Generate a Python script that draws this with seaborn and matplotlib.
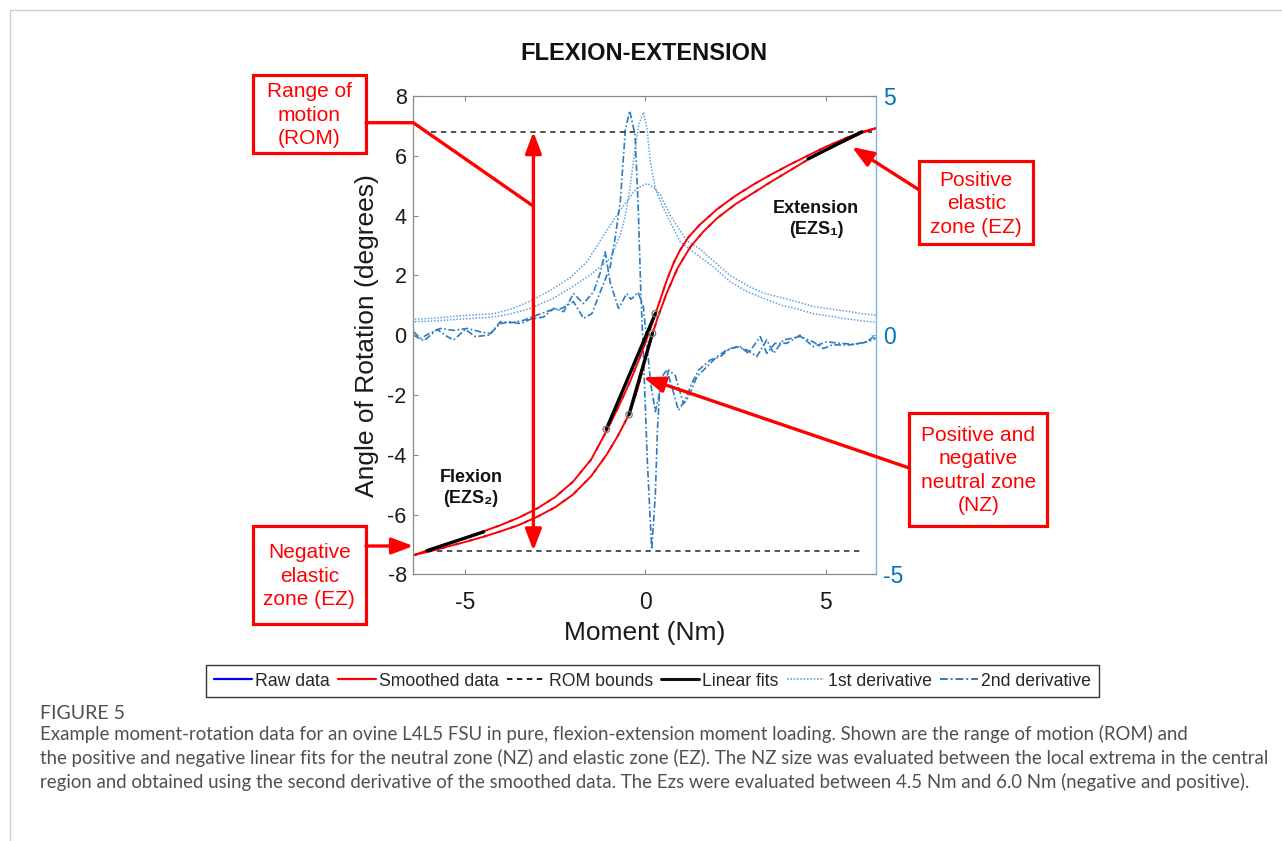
import numpy as np
import matplotlib
matplotlib.use("Agg")
import matplotlib.pyplot as plt
import seaborn as sns
from matplotlib.lines import Line2D
from matplotlib.patches import Rectangle

# ---------------- data ----------------
# moment-rotation loop: branch shifted left (upper) and branch shifted right (lower)
upper_m = [-6.42, -6.0, -5.5, -5.0, -4.5, -4.0, -3.5, -3.0, -2.5, -2.0, -1.5, -1.06, -0.75, -0.42,
           -0.15, 0.05, 0.32, 0.6, 0.8, 0.97, 1.2, 1.5, 2.0, 2.5, 3.0, 3.5, 4.0, 4.5, 5.0, 5.5,
           6.0, 6.39]
upper_rot = [-7.36, -7.18, -6.98, -6.78, -6.57, -6.35, -6.1, -5.8, -5.42, -4.9, -4.16, -3.18, -2.42,
             -1.55, -0.75, -0.1, 0.84, 1.85, 2.45, 2.85, 3.28, 3.68, 4.22, 4.66, 5.04, 5.38, 5.7,
             6.0, 6.3, 6.56, 6.8, 6.92]
lower_m = [-6.42, -6.0, -5.5, -5.0, -4.5, -4.0, -3.5, -3.0, -2.5, -2.0, -1.5, -1.06, -0.75, -0.42,
           -0.2, 0.0, 0.15, 0.35, 0.6, 0.9, 1.25, 1.6, 2.0, 2.5, 3.0, 3.5, 4.0, 4.52, 5.0, 5.5,
           6.0, 6.39]
lower_rot = [-7.36, -7.24, -7.08, -6.92, -6.75, -6.56, -6.35, -6.08, -5.76, -5.33, -4.72, -3.98,
             -3.35, -2.58, -1.75, -0.85, -0.15, 0.6, 1.42, 2.25, 2.95, 3.45, 3.92, 4.38, 4.76, 5.14,
             5.5, 5.88, 6.18, 6.47, 6.76, 6.92]

# ROM bounds
rom_upper = 6.8
rom_lower = -7.21
rom_upper_x = [-5.95, 6.3]
rom_lower_x = [-6.05, 6.0]
rom_arrow_x = -3.1

# linear fits (elastic zones and neutral zones)
ez_pos_m, ez_pos_rot = [4.52, 6.0], [5.9, 6.8]
ez_neg_m, ez_neg_rot = [-6.05, -4.48], [-7.21, -6.58]
nz_a_m, nz_a_rot = [-1.08, 0.28], [-3.15, 0.72]
nz_b_m, nz_b_rot = [-0.45, 0.2], [-2.66, 0.06]

# 1st derivative (two branches)
d1a_m = [-6.39, -5.8, -5.2, -4.6, -4.2, -3.7, -3.19, -2.6, -2.08, -1.62, -1.15, -0.88, -0.69, -0.5,
         -0.32, -0.15, 0.06, 0.25, 0.42, 0.69, 0.95, 1.15, 1.52, 1.89, 2.35, 2.8, 3.28, 3.8, 4.2,
         4.66, 5.1, 5.6, 6.0, 6.39]
d1a_v = [0.33, 0.36, 0.4, 0.43, 0.45, 0.55, 0.71, 0.95, 1.2, 1.53, 2.09, 2.4, 2.62, 2.8, 3.0, 3.1,
         3.17, 3.08, 2.93, 2.51, 2.2, 1.98, 1.8, 1.55, 1.25, 1.05, 0.88, 0.78, 0.7, 0.6, 0.55, 0.5,
         0.45, 0.42]
d1b_m = [-6.39, -5.8, -5.2, -4.6, -4.2, -3.7, -3.19, -2.6, -2.08, -1.52, -0.97, -0.69, -0.55, -0.42,
         -0.3, -0.18, -0.05, 0.05, 0.14, 0.28, 0.46, 0.69, 0.97, 1.4, 1.89, 2.35, 2.8, 3.28, 3.8,
         4.2, 4.66, 5.1, 5.6, 6.0, 6.39]
d1b_v = [0.28, 0.3, 0.33, 0.36, 0.38, 0.45, 0.56, 0.75, 0.98, 1.26, 1.6, 2.1, 2.5, 3.1, 3.8, 4.4,
         4.66, 4.32, 3.63, 3.07, 2.72, 2.37, 1.95, 1.7, 1.43, 1.12, 0.92, 0.77, 0.62, 0.55, 0.45,
         0.4, 0.34, 0.3, 0.27]

# 2nd derivative (two branches)
d2a_m = [-6.42, -6.23, -5.95, -5.68, -5.31, -4.94, -4.57, -4.29, -4.02, -3.7, -3.37, -3.0, -2.63,
         -2.31, -1.99, -1.71, -1.48, -1.25, -0.97, -0.83, -0.69, -0.55, -0.43, -0.28, -0.19, -0.12,
         -0.05, 0.06, 0.18, 0.28, 0.34, 0.42, 0.6, 0.74, 0.92, 1.11, 1.29, 1.48, 1.8, 2.08, 2.35,
         2.63, 2.86, 3.19, 3.37, 3.6, 3.93, 4.29, 4.66, 5.03, 5.4, 5.77, 6.14, 6.39]
d2a_v = [0.07, -0.07, 0.05, 0.14, 0.1, 0.14, 0.07, 0.03, 0.28, 0.26, 0.31, 0.42, 0.52, 0.56, 0.7,
         0.35, 0.45, 0.9, 1.43, 2.05, 2.8, 4.3, 4.69, 4.18, 2.58, 0.84, -0.42, -2.65, -4.48, -3.35,
         -1.95, -0.91, -0.73, -1.08, -1.57, -1.36, -1.01, -0.73, -0.52, -0.45, -0.28, -0.24, -0.38,
         -0.03, -0.38, -0.17, -0.17, 0.0, -0.24, -0.14, -0.17, -0.19, -0.14, 0.0]
d2b_m = [-6.42, -6.14, -5.77, -5.49, -5.31, -4.99, -4.71, -4.34, -4.02, -3.74, -3.46, -3.19, -2.82,
         -2.54, -2.26, -1.99, -1.71, -1.43, -1.25, -1.11, -0.97, -0.74, -0.51, -0.4, -0.32, -0.2,
         -0.05, 0.05, 0.15, 0.28, 0.4, 0.51, 0.65, 0.83, 1.06, 1.2, 1.43, 1.71, 1.99, 2.26, 2.54,
         2.82, 3.09, 3.37, 3.56, 3.83, 4.29, 4.66, 4.94, 5.2, 5.58, 5.95, 6.33, 6.39]
d2b_v = [0.0, -0.12, 0.12, -0.03, -0.1, 0.12, -0.03, 0.0, 0.24, 0.28, 0.24, 0.33, 0.38, 0.56, 0.49,
         0.87, 0.66, 0.91, 1.3, 1.74, 1.1, 0.56, 0.87, 0.75, 0.8, 0.9, 0.59, -0.2, -1.0, -1.6, -1.2,
         -1.15, -0.73, -0.84, -1.43, -1.3, -0.87, -0.66, -0.45, -0.31, -0.24, -0.31, -0.45, -0.1,
         -0.38, -0.1, -0.03, -0.14, -0.28, -0.2, -0.21, -0.18, -0.1, -0.05]

x_ticks = [-5, 0, 5]
y_ticks = [-8, -6, -4, -2, 0, 2, 4, 6, 8]
y2_ticks = [-5, 0, 5]

legend_labels = ["Raw data", "Smoothed data", "ROM bounds", "Linear fits",
                 "1st derivative", "2nd derivative"]
caption_title = "FIGURE 5"
caption_lines = [
    "Example moment-rotation data for an ovine L4L5 FSU in pure, flexion-extension moment loading. Shown are the range of motion (ROM) and",
    "the positive and negative linear fits for the neutral zone (NZ) and elastic zone (EZ). The NZ size was evaluated between the local extrema in the central",
    "region and obtained using the second derivative of the smoothed data. The Ezs were evaluated between 4.5 Nm and 6.0 Nm (negative and positive).",
]

# ---------------- styling ----------------
sns.set_style("white")
plt.rcParams["font.family"] = ["Liberation Sans", "DejaVu Sans"]
plt.rcParams["axes.unicode_minus"] = False

W, H = 1282, 841
fig = plt.figure(figsize=(W / 100, H / 100), dpi=100)
fig.patch.set_facecolor("white")

def fx(px):
    return px / W

def fy(py):
    return 1 - py / H

AX_L, AX_R, AX_T, AX_B = 413.3, 875.7, 96.0, 574.3
ax = fig.add_axes([AX_L / W, 1 - AX_B / H, (AX_R - AX_L) / W, (AX_B - AX_T) / H])
ax2 = ax.twinx()

RED = "#FF0000"
BLUE_RAW = "#0000FF"
D1_COL = "#5FA2DD"
D2_COL = "#2A7BC3"
AXIS_BLUE = "#0072BD"
SPINE_GREY = "#8a8a8a"

# derivatives on right axis
for mm, vv in [(d1a_m, d1a_v), (d1b_m, d1b_v)]:
    sns.lineplot(x=mm, y=vv, ax=ax2, color=D1_COL, linewidth=1.1, linestyle=(0, (1, 1.1)),
                 sort=False, estimator=None)
for mm, vv in [(d2a_m, d2a_v), (d2b_m, d2b_v)]:
    sns.lineplot(x=mm, y=vv, ax=ax2, color=D2_COL, linewidth=1.2,
                 linestyle=(0, (4, 1.5, 1, 1.5)), sort=False, estimator=None)

# main curves on left axis (raw data underneath, smoothed on top)
for mm, rr in [(upper_m, upper_rot), (lower_m, lower_rot)]:
    sns.lineplot(x=mm, y=rr, ax=ax, color=BLUE_RAW, linewidth=1.3, sort=False, estimator=None,
                 linestyle=(0, (2, 6)))
    sns.lineplot(x=mm, y=rr, ax=ax, color=RED, linewidth=1.4, sort=False, estimator=None)

sns.lineplot(x=rom_upper_x, y=[rom_upper, rom_upper], ax=ax, color="#222222", linewidth=1.1,
             linestyle=(0, (3.5, 3)), sort=False, estimator=None)
sns.lineplot(x=rom_lower_x, y=[rom_lower, rom_lower], ax=ax, color="#222222", linewidth=1.1,
             linestyle=(0, (3.5, 3)), sort=False, estimator=None)

for mm, rr in [(ez_pos_m, ez_pos_rot), (ez_neg_m, ez_neg_rot), (nz_a_m, nz_a_rot),
               (nz_b_m, nz_b_rot)]:
    sns.lineplot(x=mm, y=rr, ax=ax, color="black", linewidth=2.4, sort=False, estimator=None)

sns.scatterplot(x=nz_a_m + nz_b_m, y=nz_a_rot + nz_b_rot, ax=ax, s=22, facecolor="none",
                edgecolor="#777777", linewidth=0.9, zorder=5)

# ROM double arrow
ax.annotate("", xy=(rom_arrow_x, rom_upper), xytext=(rom_arrow_x, rom_lower),
            arrowprops=dict(arrowstyle="<|-|>,head_length=1.0,head_width=0.38",
                            mutation_scale=13, lw=2.4, color=RED, shrinkA=0, shrinkB=0),
            zorder=15)

# axes limits / ticks
ax.set_xlim(-6.43, 6.39)
ax.set_ylim(-8, 8)
ax2.set_ylim(-5, 5)
ax.set_xticks(x_ticks)
ax.set_yticks(y_ticks)
ax2.set_yticks(y2_ticks)
ax.set_xticklabels([str(t) for t in x_ticks])
ax.set_yticklabels([str(t) for t in y_ticks])
ax2.set_yticklabels([str(t) for t in y2_ticks])

ax.set_zorder(ax2.get_zorder() + 1)
ax.patch.set_visible(False)

for s in ["left", "top", "bottom"]:
    ax.spines[s].set_color(SPINE_GREY)
    ax.spines[s].set_linewidth(0.9)
    ax2.spines[s].set_visible(False)
ax.spines["right"].set_visible(False)
ax2.spines["right"].set_color("#7FB3E3")
ax2.spines["right"].set_linewidth(1.0)

ax.tick_params(axis="x", direction="in", top=True, bottom=True, length=3.6, width=0.8,
               color=SPINE_GREY, labelsize=16.5, pad=12, labelcolor="#1a1a1a")
ax.tick_params(axis="y", direction="in", left=True, right=False, length=3.6, width=0.8,
               color=SPINE_GREY, labelsize=15.5, pad=4.8, labelcolor="#1a1a1a")
ax2.tick_params(axis="y", direction="in", right=True, left=False, length=3.6, width=0.8,
                color="#7FB3E3", labelsize=16.5, pad=5, labelcolor=AXIS_BLUE)

ax.set_xlabel("Moment (Nm)", fontsize=19, color="#1a1a1a")
ax.set_ylabel("Angle of Rotation (degrees)", fontsize=19, color="#1a1a1a")
ax.xaxis.set_label_coords((645 - AX_L) / (AX_R - AX_L), (AX_B - 621) / (AX_B - AX_T))
ax.yaxis.set_label_coords((379 - AX_L) / (AX_R - AX_L), 0.5)
ax2.set_ylabel("")

fig.text(fx(644), fy(60.5), "FLEXION-EXTENSION", ha="center", va="baseline", fontsize=17,
         fontweight="bold", color="#111111")

# ---------------- overlay: callouts ----------------
ov = fig.add_axes([0, 0, 1, 1], zorder=20)
ov.set_xlim(0, W)
ov.set_ylim(H, 0)
ov.axis("off")

boxes = [
    ((253, 75, 366, 153), "Range of\nmotion\n(ROM)"),
    ((919.3, 161, 1033.3, 244), "Positive\nelastic\nzone (EZ)"),
    ((909.3, 413.3, 1047.3, 526), "Positive and\nnegative\nneutral zone\n(NZ)"),
    ((252.7, 526, 366, 624), "Negative\nelastic\nzone (EZ)"),
]
for (x0, y0, x1, y1), txt in boxes:
    ov.add_patch(Rectangle((x0, y0), x1 - x0, y1 - y0, fill=False, edgecolor=RED, lw=2.3,
                           joinstyle="miter"))
    ov.text((x0 + x1) / 2, (y0 + y1) / 2 + 1, txt, ha="center", va="center", color=RED,
            fontsize=15, linespacing=1.3)

# ROM connector
ov.plot([366, 413.3, 531.7], [122.7, 122.7, 205], color=RED, lw=2.4, solid_joinstyle="miter")

arrow_kw = dict(arrowstyle="-|>,head_length=1.0,head_width=0.38", mutation_scale=13, lw=2.4,
                color=RED, shrinkA=0, shrinkB=0)
ov.annotate("", xy=(852, 147), xytext=(919.3, 190), arrowprops=arrow_kw)
ov.annotate("", xy=(643.3, 377.3), xytext=(909.3, 468), arrowprops=arrow_kw)
ov.annotate("", xy=(413.3, 546), xytext=(366, 546), arrowprops=arrow_kw)

ov.text(816, 219, "Extension\n(EZS\u2081)", ha="center", va="center", fontsize=13,
        fontweight="bold", color="#111111", linespacing=1.35,
        family=["Liberation Sans", "DejaVu Sans"])
ov.text(471, 488, "Flexion\n(EZS\u2082)", ha="center", va="center", fontsize=13,
        fontweight="bold", color="#111111", linespacing=1.35,
        family=["Liberation Sans", "DejaVu Sans"])

# page border lines
ov.plot([10, W], [10, 10], color="#cfcfcf", lw=1.0)
ov.plot([10, 10], [10, H], color="#cfcfcf", lw=1.0)

# ---------------- legend ----------------
handles = [
    Line2D([], [], color=BLUE_RAW, lw=1.6),
    Line2D([], [], color=RED, lw=1.6),
    Line2D([], [], color="#111111", lw=1.3, linestyle=(0, (3, 2.5))),
    Line2D([], [], color="#111111", lw=2.2),
    Line2D([], [], color=D1_COL, lw=1.2, linestyle=(0, (1, 1))),
    Line2D([], [], color=D2_COL, lw=1.4, linestyle=(0, (4, 1.5, 1, 1.5))),
]
leg = fig.legend(handles, legend_labels, loc="center", bbox_to_anchor=(fx(652.5), fy(681)),
                 ncol=6, frameon=True, fancybox=False, edgecolor="black", fontsize=12.7,
                 handlelength=2.15, handletextpad=0.2, columnspacing=0.45, borderpad=0.45,
                 borderaxespad=0)
leg.get_frame().set_linewidth(1.0)

# ---------------- caption ----------------
cap_font = ["Lato", "DejaVu Sans"]
t_title = fig.text(fx(40), fy(719), caption_title, ha="left", va="baseline", fontsize=13,
                   color="#505050", family=cap_font)
cap_texts = []
for i, line in enumerate(caption_lines):
    cap_texts.append(fig.text(fx(40), fy(740 + 24 * i), line, ha="left", va="baseline",
                              fontsize=13, color="#505050", family=cap_font))

renderer = fig.canvas.get_renderer()
w2 = cap_texts[1].get_window_extent(renderer).width
scale = (1265 - 40) / w2
for t in cap_texts:
    t.set_fontsize(13 * scale)
wt = t_title.get_window_extent(renderer).width
t_title.set_fontsize(13 * (125 - 40) / wt)

fig.savefig("out.png", dpi=100, facecolor="white")
